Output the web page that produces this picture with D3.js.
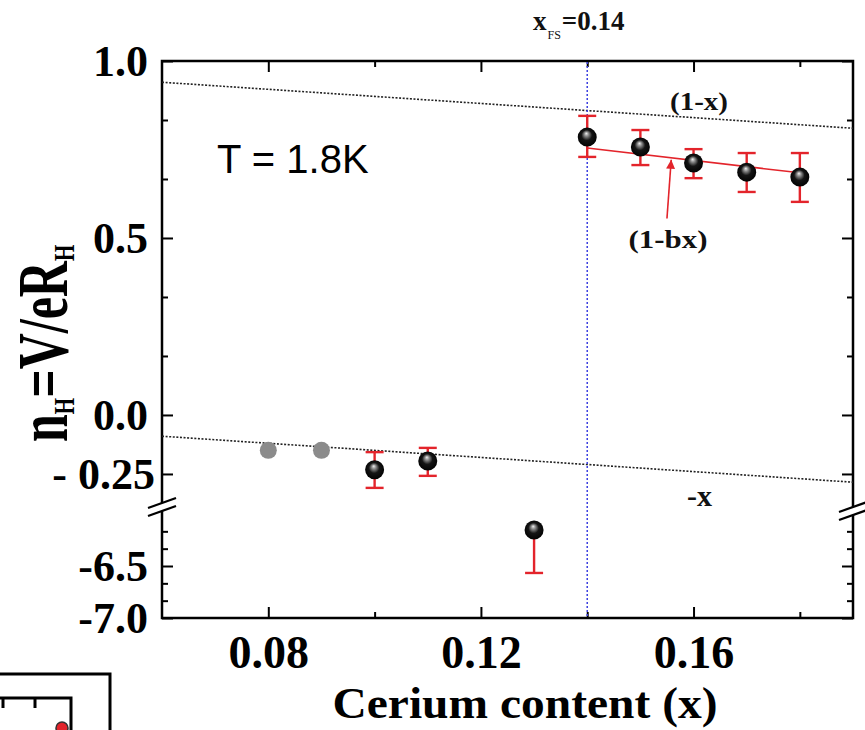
<!DOCTYPE html>
<html><head><meta charset="utf-8">
<script src="https://cdn.jsdelivr.net/npm/d3@7"></script>
<style>
html,body{margin:0;padding:0;background:#fff;}
svg{display:block;}
</style></head>
<body>
<svg id="chart" width="865" height="730"></svg>
<script>
// Hall number n_H = V/eR_H versus cerium content, T = 1.8 K
const grayX = [0.08, 0.09];
const grayN = [-0.100, -0.100];

const cerium = [0.10, 0.11, 0.14, 0.15, 0.16, 0.17, 0.18];
const nHall  = [-0.155, -0.130, 0.785, 0.757, 0.712, 0.686, 0.672];
const errTop = [-0.105, -0.093, 0.845, 0.805, 0.751, 0.740, 0.740];
const errBot = [-0.206, -0.172, 0.729, 0.706, 0.669, 0.630, 0.602];

// point shown below the axis break
const lowX = [0.13];
const lowN = [-6.154];
const lowErrBot = [-6.567];

const xFS = 0.14;
const bFit = 1.755;
const fitSpan = [0.14, 0.18];
const guideSpan = [0.06, 0.19];

const xMajor = [0.08, 0.12, 0.16];
const xMinor = [0.10, 0.14, 0.18];
const yUpperMajor = [1.0, 0.5, 0.0, -1 / 6];
const yUpperLabels = ["1.0", "0.5", "0.0", "- 0.25"];
const yUpperMinor = [5 / 6, 2 / 3, 1 / 3, 1 / 6];
const yLowerMajor = [-6.5, -7.0];
const yLowerLabels = ["-6.5", "-7.0"];
const yLowerMinor = [-6 - 1 / 6, -6 - 2 / 6, -6 - 4 / 6, -6 - 5 / 6];

const serif = "'Liberation Serif','Times New Roman',Times,serif";
const sans = "'Liberation Sans',Arial,sans-serif";
const RED = "#e3242b";

const L = 162, R = 853, T = 61, B = 618;
const svg = d3.select("#chart");

const x = d3.scaleLinear().domain([0.06, 0.19]).range([L, R]);
const yUp = d3.scaleLinear().domain([-0.26, 1.0]).range([507, T]);
const yLow = d3.scaleLinear().domain([-7.0, -6.0]).range([B, 514]);
const y = v => (v > -1 ? yUp(v) : yLow(v));

// gradient for the shaded sphere markers
const defs = svg.append("defs");
const grad = defs.append("radialGradient").attr("id", "ball")
  .attr("cx", 0.5).attr("cy", 0.5).attr("r", 0.55)
  .attr("fx", 0.45).attr("fy", 0.3);
[[0, "#f2f2f2"], [0.2, "#8f8f8f"], [0.5, "#151515"], [1, "#000"]]
  .forEach(([o, c]) => grad.append("stop").attr("offset", o).attr("stop-color", c));
defs.append("clipPath").attr("id", "plotClip")
  .append("rect").attr("x", L).attr("y", T).attr("width", R - L).attr("height", 507 - T);
defs.append("marker").attr("id", "arrowHead")
  .attr("viewBox", "0 0 10 10").attr("refX", 10).attr("refY", 5)
  .attr("markerWidth", 10).attr("markerHeight", 9).attr("markerUnits", "userSpaceOnUse")
  .attr("orient", "auto")
  .append("path").attr("d", "M0,0L10,5L0,10Z").attr("fill", RED);

// axes (inward ticks on all four sides)
function styleAxis(g, labelSize) {
  g.select(".domain").remove();
  g.selectAll(".tick line").attr("stroke", "#000").attr("stroke-width", 2);
  g.selectAll("text").attr("font-family", serif).attr("font-weight", "bold")
    .attr("font-size", labelSize).attr("fill", "#000");
  return g;
}
const noLabel = () => "";

styleAxis(svg.append("g").attr("transform", `translate(0,${B})`)
  .call(d3.axisBottom(x).tickValues(xMajor).tickFormat(d3.format(".2f"))
    .tickSizeInner(-11).tickSizeOuter(0).tickPadding(17)), 46);
styleAxis(svg.append("g").attr("transform", `translate(0,${B})`)
  .call(d3.axisBottom(x).tickValues(xMinor).tickFormat(noLabel).tickSizeInner(-6).tickSizeOuter(0)), 10);
styleAxis(svg.append("g").attr("transform", `translate(0,${T})`)
  .call(d3.axisTop(x).tickValues(xMajor).tickFormat(noLabel).tickSizeInner(-11).tickSizeOuter(0)), 10);
styleAxis(svg.append("g").attr("transform", `translate(0,${T})`)
  .call(d3.axisTop(x).tickValues(xMinor).tickFormat(noLabel).tickSizeInner(-6).tickSizeOuter(0)), 10);

const leftUp = styleAxis(svg.append("g").attr("transform", `translate(${L},0)`)
  .call(d3.axisLeft(yUp).tickValues(yUpperMajor).tickFormat((d, i) => yUpperLabels[i])
    .tickSizeInner(-11).tickSizeOuter(0).tickPadding(14)), 44);
leftUp.selectAll(".tick text").filter((d, i) => i === 3).attr("dx", 7);
styleAxis(svg.append("g").attr("transform", `translate(${L},0)`)
  .call(d3.axisLeft(yLow).tickValues(yLowerMajor).tickFormat((d, i) => yLowerLabels[i])
    .tickSizeInner(-11).tickSizeOuter(0).tickPadding(14)), 44);
[yUp, yLow].forEach((sc, k) => {
  const minor = k === 0 ? yUpperMinor : yLowerMinor;
  const major = k === 0 ? yUpperMajor : yLowerMajor;
  styleAxis(svg.append("g").attr("transform", `translate(${L},0)`)
    .call(d3.axisLeft(sc).tickValues(minor).tickFormat(noLabel).tickSizeInner(-6).tickSizeOuter(0)), 10);
  styleAxis(svg.append("g").attr("transform", `translate(${R},0)`)
    .call(d3.axisRight(sc).tickValues(major).tickFormat(noLabel).tickSizeInner(-11).tickSizeOuter(0)), 10);
  styleAxis(svg.append("g").attr("transform", `translate(${R},0)`)
    .call(d3.axisRight(sc).tickValues(minor).tickFormat(noLabel).tickSizeInner(-6).tickSizeOuter(0)), 10);
});

// frame
svg.append("rect").attr("x", L).attr("y", T).attr("width", R - L).attr("height", B - T)
  .attr("fill", "none").attr("stroke", "#000").attr("stroke-width", 2.5);

// axis break marks
[[L, 507], [R, 511]].forEach(([cx, cy]) => {
  svg.append("path")
    .attr("d", `M${cx - 14},${cy + 1}L${cx + 14},${cy - 9}L${cx + 14},${cy - 1}L${cx - 14},${cy + 9}Z`)
    .attr("fill", "#fff");
  [-4, 4].forEach(off => {
    svg.append("line")
      .attr("x1", cx - 14).attr("y1", cy + off + 5)
      .attr("x2", cx + 14).attr("y2", cy + off - 5)
      .attr("stroke", "#000").attr("stroke-width", 2.2);
  });
});

// guide lines (1-x) and -x
const line = d3.line().x(d => x(d[0])).y(d => y(d[1]));
const guides = svg.append("g").attr("clip-path", "url(#plotClip)");
guides.append("path").datum(guideSpan.map(c => [c, 1 - c])).attr("d", line)
  .attr("fill", "none").attr("stroke", "#222").attr("stroke-width", 1.6).attr("stroke-dasharray", "2,1.6");
guides.append("path").datum(guideSpan.map(c => [c, -c])).attr("d", line)
  .attr("fill", "none").attr("stroke", "#222").attr("stroke-width", 1.6).attr("stroke-dasharray", "2,1.6");

// critical concentration x_FS
svg.append("line").attr("x1", x(xFS)).attr("x2", x(xFS)).attr("y1", T + 1).attr("y2", B - 1)
  .attr("stroke", "#3b3fe0").attr("stroke-width", 1.5).attr("stroke-dasharray", "2,2");

// fit (1-bx)
svg.append("path").datum(fitSpan.map(c => [c, 1 - bFit * c])).attr("d", line)
  .attr("fill", "none").attr("stroke", RED).attr("stroke-width", 1.5);

// error bars
const capW = 9;
const eb = svg.append("g").attr("stroke", RED).attr("stroke-width", 2.4).attr("fill", "none");
cerium.forEach((c, i) => {
  const cx = x(c);
  eb.append("line").attr("x1", cx).attr("x2", cx).attr("y1", y(errTop[i])).attr("y2", y(errBot[i]));
  [errTop[i], errBot[i]].forEach(v => eb.append("line")
    .attr("x1", cx - capW).attr("x2", cx + capW).attr("y1", y(v)).attr("y2", y(v)));
});
lowX.forEach((c, i) => {
  const cx = x(c);
  eb.append("line").attr("x1", cx).attr("x2", cx).attr("y1", y(lowN[i])).attr("y2", y(lowErrBot[i]));
  eb.append("line").attr("x1", cx - capW).attr("x2", cx + capW)
    .attr("y1", y(lowErrBot[i])).attr("y2", y(lowErrBot[i]));
});

// markers
svg.append("g").selectAll("circle").data(grayX).join("circle")
  .attr("cx", d => x(d)).attr("cy", (d, i) => y(grayN[i])).attr("r", 8.5).attr("fill", "#8b8b8b");
const balls = cerium.map((c, i) => [c, nHall[i]]).concat(lowX.map((c, i) => [c, lowN[i]]));
svg.append("g").selectAll("circle").data(balls).join("circle")
  .attr("cx", d => x(d[0])).attr("cy", d => y(d[1])).attr("r", 9.5).attr("fill", "url(#ball)");

// arrow pointing at the fit
const arrowFrom = [0.1550, 0.555], arrowTo = 0.1558;
svg.append("line")
  .attr("x1", x(arrowFrom[0])).attr("y1", y(arrowFrom[1]))
  .attr("x2", x(arrowTo)).attr("y2", y(1 - bFit * arrowTo) + 2)
  .attr("stroke", RED).attr("stroke-width", 1.6).attr("marker-end", "url(#arrowHead)");

// annotations
const ann = svg.append("g").attr("font-family", serif).attr("font-weight", "bold").attr("fill", "#111");
ann.append("text").attr("x", 699).attr("y", 110).attr("text-anchor", "middle")
  .attr("font-size", 25).attr("textLength", 58).attr("lengthAdjust", "spacingAndGlyphs").text("(1-x)");
ann.append("text").attr("x", 668).attr("y", 248).attr("text-anchor", "middle")
  .attr("font-size", 25).attr("textLength", 79).attr("lengthAdjust", "spacingAndGlyphs").text("(1-bx)");
ann.append("text").attr("x", 687).attr("y", 506)
  .attr("font-size", 30).text("-x");

const fs = ann.append("text").attr("x", 533).attr("y", 30).attr("font-size", 27);
fs.append("tspan").text("x");
fs.append("tspan").attr("font-size", 12).attr("font-weight", "normal").attr("dy", 9).attr("dx", 1).text("FS");
fs.append("tspan").attr("dy", -9).attr("dx", 1).text("=0.14");

svg.append("text").attr("x", 217).attr("y", 173).attr("font-family", sans)
  .attr("font-size", 40).attr("fill", "#000").text("T = 1.8K");

// axis titles
svg.append("text").attr("x", 525).attr("y", 718).attr("text-anchor", "middle")
  .attr("font-family", serif).attr("font-weight", "bold").attr("font-size", 45)
  .attr("textLength", 385).attr("lengthAdjust", "spacingAndGlyphs")
  .text("Cerium content (x)");

const yt = svg.append("text").attr("transform", "translate(67,442) rotate(-90) scale(1,1.45)")
  .attr("font-family", serif).attr("font-weight", "bold").attr("font-size", 50);
yt.append("tspan").text("n");
yt.append("tspan").attr("font-size", 21).attr("dy", 5).text("H");
yt.append("tspan").attr("dy", -5).text("=V/eR");
yt.append("tspan").attr("font-size", 21).attr("dy", 5).text("H");

// cropped neighbouring panel at the lower left
const inset = svg.append("g").attr("stroke", "#000").attr("fill", "none");
inset.append("rect").attr("x", -3).attr("y", 674).attr("width", 113).attr("height", 70).attr("stroke-width", 3);
inset.append("path").attr("d", "M0,698H71V732M35,698V708M3,698V708").attr("stroke-width", 3);
svg.append("circle").attr("cx", 62).attr("cy", 728).attr("r", 6)
  .attr("fill", RED).attr("stroke", "#333").attr("stroke-width", 1.5);
</script>
</body></html>
